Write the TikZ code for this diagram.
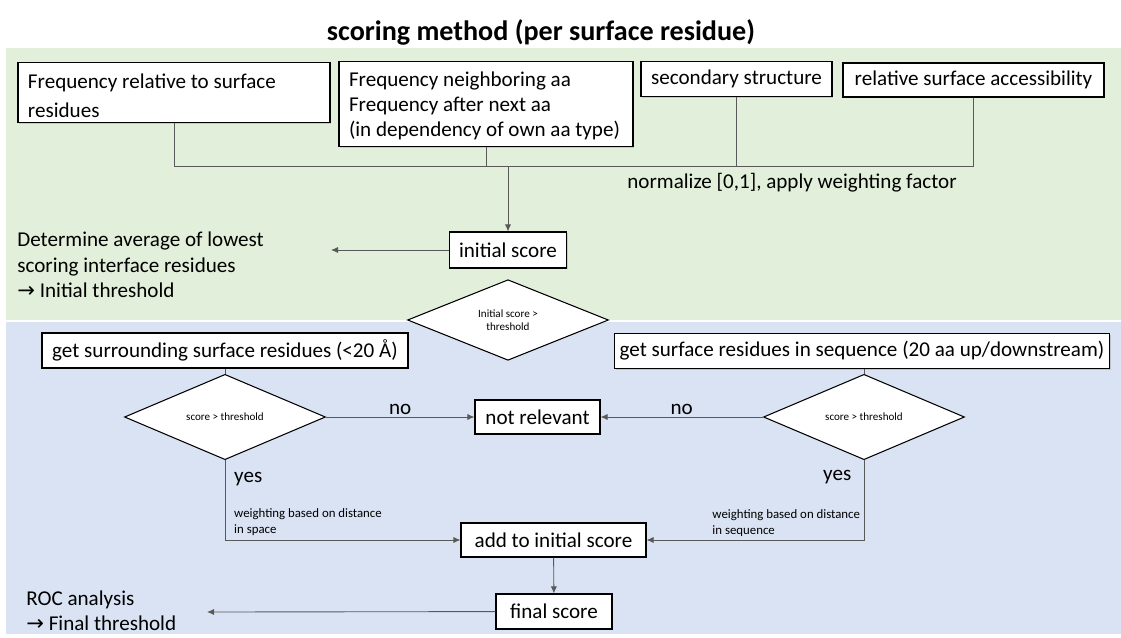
\documentclass[tikz,border=0pt]{standalone}
\usepackage{fontspec}
\setmainfont{Carlito}
\newfontfamily\arrowfont{DejaVu Sans}
\usetikzlibrary{shapes.geometric,arrows.meta,shadows}
\definecolor{panelgreen}{HTML}{E2EFDA}
\definecolor{panelblue}{HTML}{DAE3F3}
\definecolor{linegray}{HTML}{595959}

\begin{document}
\begin{tikzpicture}[x=0.2mm, y=-0.2mm,
    box/.style={draw=black, line width=0.6pt, fill=white, inner sep=2pt,
      drop shadow={shadow xshift=0.7pt, shadow yshift=-0.7pt, opacity=0.3},
      font=\fontsize{12}{14}\selectfont},
    topbox/.style={box, inner xsep=2mm, align=flush left, font=\fontsize{12}{14.5}\selectfont},
    decision/.style={diamond, draw=black, line width=0.6pt, fill=white, inner sep=0pt,
      minimum width=40.2mm, minimum height=13.2mm, align=center,
      font=\fontsize{6.3}{7.5}\selectfont},
    line/.style={draw=linegray, line width=0.5pt},
    arr/.style={line, -{Latex[length=4pt,width=3.5pt]}},
    txt/.style={inner sep=0pt, align=left},
    lbl/.style={inner sep=1pt, font=\fontsize{12}{14}\selectfont},
    small/.style={inner sep=1pt, align=left, font=\fontsize{7.3}{9}\selectfont}]
  \useasboundingbox (0,0) rectangle (1121,637);
  \fill[panelgreen] (6,48) rectangle (1121,320);
  \fill[panelblue] (6,322) rectangle (1121,634);

  \node[font=\fontsize{16}{19}\selectfont\bfseries] (title) at (541,32) {scoring method (per surface residue)};

  % features
  \node[topbox, text width=58.4mm, text height=13.3pt, text depth=17.3pt,
    font=\fontsize{12}{16}\selectfont] (freqsurf) at (174,92.5) {Frequency relative to surface\\residues};
  \node[topbox, text width=54.8mm, text height=12.7pt, text depth=32.1pt,
    font=\fontsize{12}{14.2}\selectfont] (freqnb) at (486,104) {Frequency neighboring aa\\Frequency after next aa\\(in dependency of own aa type)};
  \node[topbox, minimum width=38.2mm, minimum height=7mm] (secstr) at (736.5,79) {secondary structure};
  \node[topbox, minimum width=52.2mm, minimum height=6.8mm] (rsa) at (973.5,80) {relative surface accessibility};

  \coordinate (merge) at (508,166);
  \draw[line] (freqsurf.south) |- (merge);
  \draw[line] (freqnb.south) |- (merge);
  \draw[line] (secstr.south) |- (merge);
  \draw[line] (rsa.south) |- (merge);
  \node[txt, font=\fontsize{12}{14}\selectfont] (normlbl) at (792,183) {normalize [0,1], apply weighting factor};

  \node[box, minimum width=23.4mm, minimum height=7.2mm] (init) at (508,250) {initial score};
  \draw[arr] (merge) -- (init);
  \coordinate (initend) at (331,250);
  \draw[arr] (init) -- (initend);
  \node[txt, anchor=west, font=\fontsize{12}{14.5}\selectfont] (initthr) at (17,265) {Determine average of lowest\\scoring interface residues\\{\arrowfont →} Initial threshold};

  \node[decision] (decinit) at (508,320) {Initial score >\\threshold};

  % neighbourhood
  \node[box, minimum width=73.2mm, minimum height=7mm] (getsurr) at (225,350.5) {get surrounding surface residues (<20 Å)};
  \node[box, minimum width=99mm, minimum height=7mm] (getseq) at (862,351) {get surface residues in sequence (20 aa up/downstream)};
  \node[decision] (decL) at (225,417) {score > threshold};
  \node[decision] (decR) at (864,417) {score > threshold};
  \node[box, minimum width=25mm, minimum height=6.8mm] (notrel) at (537.5,417) {not relevant};
  \node[box, minimum width=37mm, minimum height=6.8mm] (addinit) at (553.5,540) {add to initial score};
  \node[box, minimum width=23.2mm, minimum height=7mm] (final) at (554,611.5) {final score};

  \draw[line] (getsurr.south) -- (decL.north);
  \draw[line] (getseq.south -| decR.north) -- (decR.north);
  \draw[arr] (decL) -- node[lbl, above] {no} (notrel);
  \draw[arr] (decR) -- node[lbl, above] {no} (notrel);
  \draw[arr] (decL.south) |- node[lbl, pos=0.12, right=4pt] {yes}
    node[small, pos=0.39, right=4pt] {weighting based on distance\\in space} (addinit.west);
  \draw[arr] (decR.south) |- node[lbl, pos=0.105, left=6pt] {yes}
    node[small, pos=0.395, left=1pt] {weighting based on distance\\in sequence} (addinit.east);
  \draw[arr] (addinit) -- (final);
  \coordinate (finalend) at (207,612);
  \draw[arr] (final) -- (finalend);
  \node[txt, anchor=west, font=\fontsize{12}{14.5}\selectfont] (finalthr) at (26,611) {ROC analysis\\{\arrowfont →} Final threshold};
\end{tikzpicture}
\end{document}
